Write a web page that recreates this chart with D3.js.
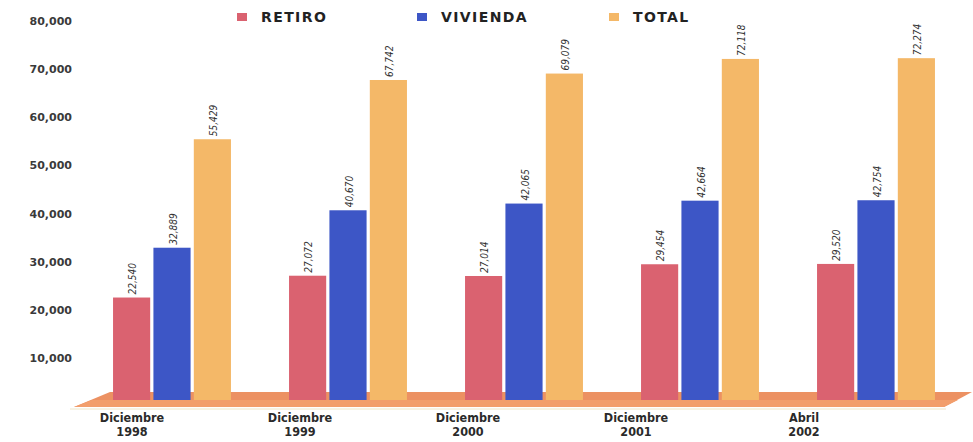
<!DOCTYPE html>
<html>
<head>
<meta charset="utf-8">
<script src="https://cdn.jsdelivr.net/npm/d3@7"></script>
<style>
  html, body { margin: 0; padding: 0; background: #ffffff; }
  svg { display: block; }
</style>
</head>
<body>
<svg id="chart" width="973" height="442"></svg>
<script>
// Afiliados por periodo: retiro, vivienda y total
const categories = ["Diciembre 1998", "Diciembre 1999", "Diciembre 2000", "Diciembre 2001", "Abril 2002"];
const seriesNames = ["RETIRO", "VIVIENDA", "TOTAL"];
const retiro   = [22540, 27072, 27014, 29454, 29520];
const vivienda = [32889, 40670, 42065, 42664, 42754];
const total    = [55429, 67742, 69079, 72118, 72274];
const yTicks   = [10000, 20000, 30000, 40000, 50000, 60000, 70000, 80000];

const colors = { RETIRO: "#da6270", VIVIENDA: "#3d56c6", TOTAL: "#f4b868" };

const rows = categories.map((c, i) => ({
  cat: c,
  values: [
    { key: "RETIRO", v: retiro[i] },
    { key: "VIVIENDA", v: vivienda[i] },
    { key: "TOTAL", v: total[i] }
  ]
}));

const svg = d3.select("#chart");
const fmt = d3.format(",");

const y = d3.scaleLinear().domain([0, 80000]).range([406, 21]);
const x0 = d3.scaleBand().domain(categories).range([84, 964]).paddingInner(0.33).paddingOuter(0.165);
const x1 = d3.scaleBand().domain(seriesNames).range([0, x0.bandwidth()]).paddingInner(0.08);
// Category captions sit on the front edge of the slanted floor
const xLab = d3.scalePoint().domain(categories).range([132, 804]);

// Y axis (labels only)
const yAxis = d3.axisLeft(y).tickValues(yTicks).tickFormat(fmt).tickSize(0).tickPadding(0);
const gy = svg.append("g").attr("transform", "translate(72,0)").call(yAxis);
gy.select(".domain").remove();
gy.selectAll("text")
  .attr("font-family", "'DejaVu Sans', sans-serif")
  .attr("font-weight", "bold")
  .attr("font-size", 11)
  .attr("fill", "#3a3a3a");

// Floor: slanted slab under the bars
const floorTop = 392, floorBottom = 407;
svg.append("polygon")
  .attr("points", [[110, floorTop], [972, floorTop], [944, floorBottom], [74, floorBottom]].map(p => p.join(",")).join(" "))
  .attr("fill", "#ec9162");
svg.append("polygon")
  .attr("points", [[92, 400], [958, 400], [944, floorBottom], [74, floorBottom]].map(p => p.join(",")).join(" "))
  .attr("fill", "#f29e6c");
svg.append("line")
  .attr("x1", 70).attr("x2", 946).attr("y1", 409).attr("y2", 409)
  .attr("stroke", "#efe6c8").attr("stroke-width", 1);

// Bars
const barBottom = 400;
const groups = svg.append("g").selectAll("g")
  .data(rows)
  .join("g")
  .attr("transform", d => `translate(${x0(d.cat)},0)`);

groups.selectAll("rect")
  .data(d => d.values)
  .join("rect")
  .attr("x", d => x1(d.key))
  .attr("y", d => y(d.v))
  .attr("width", x1.bandwidth())
  .attr("height", d => barBottom - y(d.v))
  .attr("fill", d => colors[d.key]);

// Value labels, rotated above each bar
groups.selectAll("text.val")
  .data(d => d.values)
  .join("text")
  .attr("class", "val")
  .attr("transform", d => `translate(${x1(d.key) + x1.bandwidth() / 2 + 1},${y(d.v) - 3}) rotate(-90)`)
  .attr("text-anchor", "start")
  .attr("dominant-baseline", "central")
  .attr("font-family", "'DejaVu Sans Condensed', 'DejaVu Sans', sans-serif")
  .attr("font-style", "italic")
  .attr("font-size", 10)
  .attr("fill", "#333")
  .text(d => fmt(d.v));

// Category labels, two lines each
const cl = svg.append("g").selectAll("g")
  .data(categories)
  .join("g")
  .attr("transform", d => `translate(${xLab(d)},0)`);
cl.selectAll("text")
  .data(d => d.split(" "))
  .join("text")
  .attr("x", 0)
  .attr("y", (d, i) => 422 + i * 14)
  .attr("text-anchor", "middle")
  .attr("font-family", "'DejaVu Sans Condensed', 'DejaVu Sans', sans-serif")
  .attr("font-weight", "bold")
  .attr("font-size", 12.5)
  .attr("fill", "#2a2a2a")
  .text(d => d);

// Legend
const legendX = [237, 417, 609];
const lg = svg.append("g").selectAll("g")
  .data(seriesNames)
  .join("g")
  .attr("transform", (d, i) => `translate(${legendX[i]},17)`);
lg.append("rect")
  .attr("x", 0).attr("y", -4).attr("width", 10).attr("height", 8)
  .attr("fill", d => colors[d]);
lg.append("text")
  .attr("x", 24).attr("y", 0)
  .attr("dominant-baseline", "central")
  .attr("font-family", "'DejaVu Sans', sans-serif")
  .attr("font-weight", "bold")
  .attr("font-size", 14)
  .attr("letter-spacing", 1.4)
  .attr("fill", "#222")
  .text(d => d);
</script>
</body>
</html>
